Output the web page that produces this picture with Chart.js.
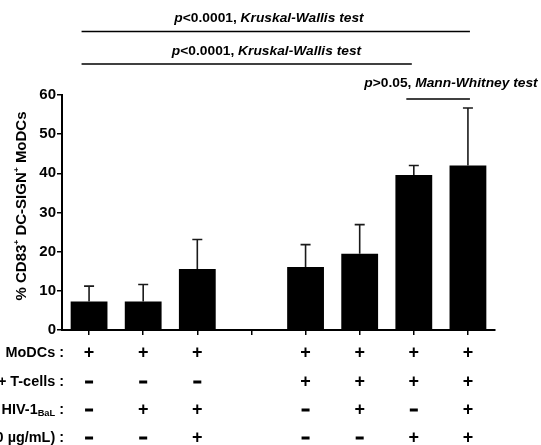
<!DOCTYPE html>
<html><head><meta charset="utf-8">
<script src="https://cdn.jsdelivr.net/npm/chart.js@4"></script>
<style>html,body{margin:0;padding:0;background:#fff;overflow:hidden}canvas{display:block}</style>
</head><body>
<canvas id="c" width="541" height="445"></canvas>
<script>
// ---- data ----
const categories = ['A', 'B', 'C', '', 'D', 'E', 'F', 'G'];
const meanValues = [7.3, 7.3, 15.6, null, 16.1, 19.5, 39.6, 42.0];
const sdValues   = [3.9, 4.3, 7.5, null, 5.7, 7.4, 2.4, 14.7];
const yTickStep = 10;
const yMin = 0, yMax = 60;
const rowMoDCs  = ['+', '+', '+', '', '+', '+', '+', '+'];
const rowTcells = ['-', '-', '-', '', '+', '+', '+', '+'];
const rowHIV    = ['-', '+', '+', '', '-', '+', '-', '+'];
const rowAb     = ['-', '-', '+', '', '-', '-', '+', '+'];
const statPValues = ['<0.0001, ', '<0.0001, ', '>0.05, '];
const statTests   = ['Kruskal-Wallis test', 'Kruskal-Wallis test', 'Mann-Whitney test'];
const statFrom = [0, 0, 6];
const statTo   = [7, 6, 7];

const FONT = "'Liberation Sans', Arial, sans-serif";

function drawRich(ctx, segs, x, y, align, hs) {
  hs = hs || 1;
  let total = 0;
  const widths = segs.map(s => {
    ctx.font = (s.italic ? 'italic ' : '') + 'bold ' + s.size + 'px ' + FONT;
    const w = ctx.measureText(s.text).width;
    total += w; return w;
  });
  total *= hs;
  let cx = align === 'center' ? x - total / 2 : align === 'right' ? x - total : x;
  ctx.save();
  ctx.translate(cx, y);
  ctx.scale(hs, 1);
  ctx.textAlign = 'left';
  let ox = 0;
  segs.forEach((s, i) => {
    ctx.font = (s.italic ? 'italic ' : '') + 'bold ' + s.size + 'px ' + FONT;
    ctx.fillText(s.text, ox, s.dy || 0);
    ox += widths[i];
  });
  ctx.restore();
}

const overlay = {
  id: 'overlay',
  afterDatasetsDraw(chart) {
    const { ctx, scales: { x, y } } = chart;
    const meta = chart.getDatasetMeta(0);
    ctx.save();
    ctx.strokeStyle = '#1a1a1a';
    ctx.lineWidth = 1.6;
    meta.data.forEach((bar, i) => {
      if (meanValues[i] == null) return;
      const yTop = y.getPixelForValue(meanValues[i] + sdValues[i]);
      ctx.beginPath();
      ctx.moveTo(bar.x, bar.y);
      ctx.lineTo(bar.x, yTop);
      ctx.moveTo(bar.x - 5, yTop);
      ctx.lineTo(bar.x + 5, yTop);
      ctx.stroke();
    });
    ctx.restore();
  },
  afterDraw(chart) {
    const { ctx, chartArea, scales: { x, y } } = chart;
    ctx.save();
    ctx.fillStyle = '#000';
    ctx.strokeStyle = '#000';
    ctx.textBaseline = 'middle';

    // stat brackets
    const lineY = [31.5, 64, 99];
    const textY = [18, 51.5, 83.5];
    const textX = [269, 266.5, 451];
    const endOff = [2, -2, 2];
    for (let k = 0; k < statFrom.length; k++) {
      const x0 = x.getPixelForValue(statFrom[k]) - 7.5;
      const x1 = x.getPixelForValue(statTo[k]) + endOff[k];
      ctx.lineWidth = 1.5;
      ctx.beginPath();
      ctx.moveTo(x0, lineY[k]);
      ctx.lineTo(x1, lineY[k]);
      ctx.stroke();
      drawRich(ctx, [
        { text: 'p', size: 13, italic: true },
        { text: statPValues[k], size: 13 },
        { text: statTests[k], size: 13, italic: true }
      ], textX[k], textY[k], 'center', 1.06);
    }

    // y axis title (rotated)
    ctx.save();
    ctx.translate(22, 206);
    ctx.rotate(-Math.PI / 2);
    drawRich(ctx, [
      { text: '% CD83', size: 14 },
      { text: '+', size: 8, dy: -5 },
      { text: ' DC-SIGN', size: 14 },
      { text: '+', size: 8, dy: -5 },
      { text: ' MoDCs', size: 14 }
    ], 0, 0, 'center', 1.07);
    ctx.restore();

    // condition table
    const base = chartArea.bottom;
    const rowOffsets = [23, 52, 80, 108];
    const rows = [rowMoDCs, rowTcells, rowHIV, rowAb];
    const labelRight = 64;
    const hs = 1.03;
    drawRich(ctx, [{ text: 'MoDCs :', size: 14 }], labelRight, base + rowOffsets[0], 'right', hs);
    drawRich(ctx, [{ text: 'CD4+ T-cells :', size: 14 }], labelRight, base + rowOffsets[1], 'right', hs);
    drawRich(ctx, [
      { text: 'HIV-1', size: 14 },
      { text: 'BaL', size: 9, dy: 4 },
      { text: ' :', size: 14 }
    ], labelRight, base + rowOffsets[2], 'right', hs);
    drawRich(ctx, [{ text: '(10 µg/mL) :', size: 14 }], labelRight, base + rowOffsets[3], 'right', hs);

    rows.forEach((row, r) => {
      row.forEach((sym, i) => {
        if (!sym) return;
        const px = x.getPixelForValue(i);
        const py = base + rowOffsets[r];
        if (sym === '+') {
          ctx.font = 'bold 18px ' + FONT;
          ctx.textAlign = 'center';
          ctx.fillText('+', px, py);
        } else {
          ctx.fillRect(px - 4, py - 1.5, 8, 3);
        }
      });
    });
    ctx.restore();
  }
};

new Chart(document.getElementById('c'), {
  type: 'bar',
  data: {
    labels: categories,
    datasets: [{
      data: meanValues,
      backgroundColor: '#000',
      borderWidth: 0,
      barPercentage: 0.68,
      categoryPercentage: 1
    }]
  },
  options: {
    responsive: false,
    animation: false,
    devicePixelRatio: 1,
    layout: { padding: { left: 0, top: 95, right: 46, bottom: 0 } },
    plugins: { legend: { display: false }, tooltip: { enabled: false } },
    scales: {
      x: {
        offset: true,
        grid: { offset: false, drawOnChartArea: false, drawTicks: true, tickLength: 5, color: '#000', lineWidth: 1.5 },
        border: { display: true, color: '#000', width: 2 },
        ticks: { autoSkip: false, callback: () => '' },
        afterFit(s) { s.height = 115; }
      },
      y: {
        min: yMin, max: yMax,
        ticks: { stepSize: yTickStep, color: '#000', padding: 1, font: { family: FONT, weight: 'bold', size: 15 } },
        grid: { drawOnChartArea: false, drawTicks: true, tickLength: 5, color: '#000', lineWidth: 1.5 },
        border: { display: true, color: '#000', width: 2 },
        afterFit(s) { s.width = 62; }
      }
    }
  },
  plugins: [overlay]
});
</script>
</body></html>
